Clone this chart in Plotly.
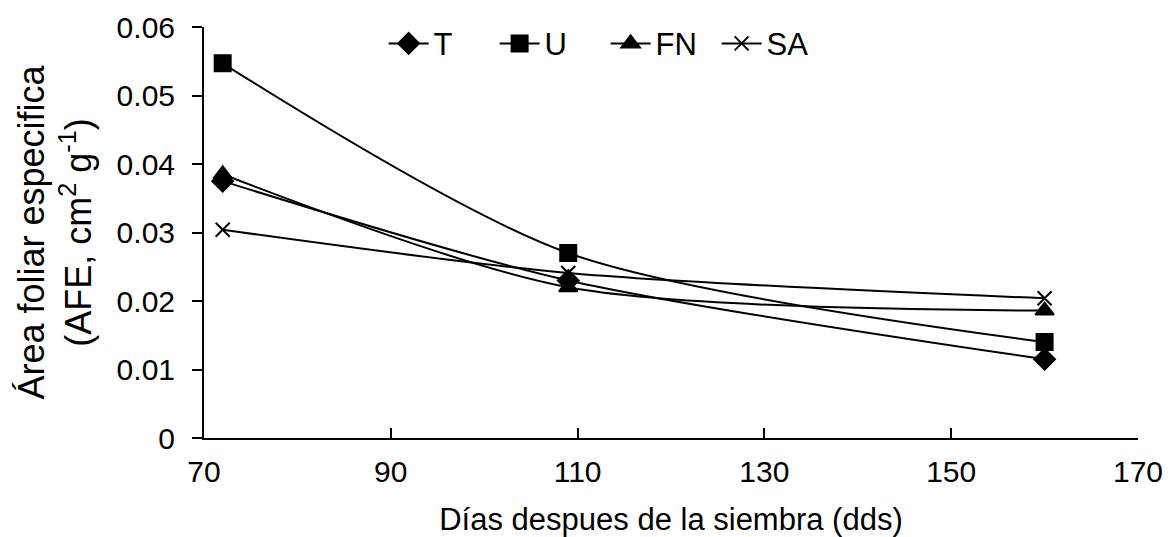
import plotly.graph_objects as go

dias = [72, 109, 160]
T = [0.0375, 0.0230, 0.0115]
U = [0.0547, 0.0270, 0.0140]
FN = [0.0385, 0.0220, 0.0186]
SA = [0.0304, 0.0241, 0.0204]

series = [("T", T, "diamond", 16), ("U", U, "square", 16),
          ("FN", FN, "triangle-up", 16), ("SA", SA, "x-thin-open", 14)]

fig = go.Figure()
for name, vals, sym, size in series:
    fig.add_trace(go.Scatter(
        x=dias, y=vals, name=name, mode="lines+markers",
        line=dict(color="black", width=2, shape="spline", smoothing=0.8),
        marker=dict(symbol=sym, size=size, color="black",
                    line=dict(color="black", width=2)),
    ))

fam = "Liberation Sans, Arial, sans-serif"
fig.update_layout(
    width=1168, height=537,
    margin=dict(l=204, r=30, t=27, b=99, autoexpand=False),
    plot_bgcolor="white", paper_bgcolor="white",
    font=dict(size=30, family=fam, color="#000"),
    showlegend=True,
    legend=dict(orientation="h", x=0.43, xanchor="center", y=1.025, yanchor="top",
                font=dict(size=31, family=fam, color="#000"), bgcolor="rgba(0,0,0,0)",
                itemwidth=40, tracegroupgap=0, entrywidth=56, entrywidthmode="pixels"),
    xaxis=dict(range=[70, 170], tickvals=[70, 90, 110, 130, 150, 170],
               automargin=False,
               showgrid=False, zeroline=False, showline=True, linecolor="black", linewidth=2,
               ticks="inside", ticklen=10, tickwidth=2, tickcolor="black",
               ticklabelstandoff=6,
               tickfont=dict(size=30, family=fam, color="#000"),
               title=dict(text="Días despues de la siembra (dds)",
                          font=dict(size=31, family=fam, color="#000"), standoff=21)),
    yaxis=dict(range=[0, 0.06], tickvals=[0, 0.01, 0.02, 0.03, 0.04, 0.05, 0.06],
               ticktext=["0", "0.01", "0.02", "0.03", "0.04", "0.05", "0.06"],
               automargin=False,
               showgrid=False, zeroline=False, showline=True, linecolor="black", linewidth=2,
               ticks="outside", ticklen=10, tickwidth=2, tickcolor="black",
               ticklabelstandoff=11,
               tickfont=dict(size=30, family=fam, color="#000"),
               title=dict(text="Área foliar especifica<br>(AFE, cm<sup>2</sup> g<sup>-1</sup>)",
                          font=dict(size=36, family=fam, color="#000"), standoff=14)),
)
fig.write_html("out.html")
